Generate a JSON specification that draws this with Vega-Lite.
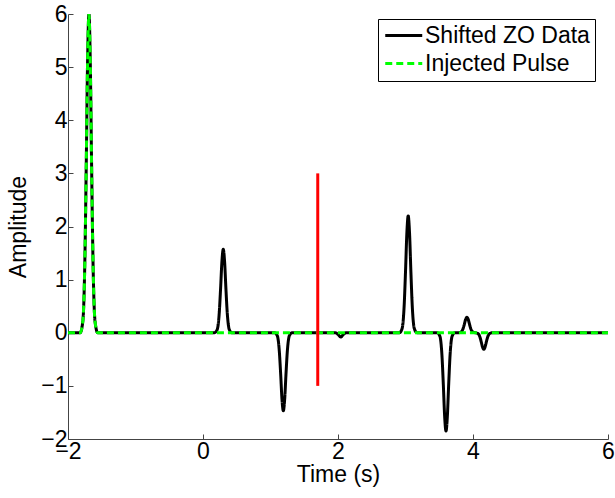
{
  "$schema": "https://vega.github.io/schema/vega-lite/v6.json",
  "width": 540,
  "height": 425,
  "autosize": "none",
  "padding": {"left": 68, "top": 14, "right": 7, "bottom": 59},
  "background": "white",
  "config": {
    "view": {"stroke": null},
    "font": "Liberation Sans",
    "axis": {
      "labelFont": "Liberation Sans",
      "titleFont": "Liberation Sans",
      "labelFontSize": 23,
      "titleFontSize": 23,
      "titleFontWeight": "normal",
      "labelColor": "black",
      "titleColor": "black",
      "domainColor": "#444",
      "tickColor": "#444",
      "tickSize": -5,
      "labelFlush": false,
      "labelOverlap": false,
      "grid": false
    },
    "legend": {
      "symbolType": "M-1,0H3",
      "symbolSize": 342,
      "symbolStrokeWidth": 3,
      "labelFont": "Liberation Sans",
      "labelFontSize": 23,
      "labelColor": "black",
      "labelOffset": 19,
      "labelLimit": 400,
      "rowPadding": 4,
      "padding": 5,
      "strokeColor": "black",
      "fillColor": "white",
      "cornerRadius": 0
    }
  },
  "datasets": {
    "zo": [
      {"series": "Shifted ZO Data", "t": -2.0, "amp": 0},
      {"series": "Shifted ZO Data", "t": -1.82, "amp": 0},
      {"series": "Shifted ZO Data", "t": -1.78, "amp": 0.22},
      {"series": "Shifted ZO Data", "t": -1.75, "amp": 1.38},
      {"series": "Shifted ZO Data", "t": -1.73, "amp": 3.12},
      {"series": "Shifted ZO Data", "t": -1.71, "amp": 5.1},
      {"series": "Shifted ZO Data", "t": -1.69, "amp": 6.0},
      {"series": "Shifted ZO Data", "t": -1.67, "amp": 5.1},
      {"series": "Shifted ZO Data", "t": -1.65, "amp": 3.12},
      {"series": "Shifted ZO Data", "t": -1.63, "amp": 1.38},
      {"series": "Shifted ZO Data", "t": -1.60, "amp": 0.22},
      {"series": "Shifted ZO Data", "t": -1.56, "amp": 0},
      {"series": "Shifted ZO Data", "t": 0.17, "amp": 0},
      {"series": "Shifted ZO Data", "t": 0.21, "amp": 0.058},
      {"series": "Shifted ZO Data", "t": 0.24, "amp": 0.361},
      {"series": "Shifted ZO Data", "t": 0.26, "amp": 0.816},
      {"series": "Shifted ZO Data", "t": 0.28, "amp": 1.335},
      {"series": "Shifted ZO Data", "t": 0.30, "amp": 1.57},
      {"series": "Shifted ZO Data", "t": 0.32, "amp": 1.335},
      {"series": "Shifted ZO Data", "t": 0.34, "amp": 0.816},
      {"series": "Shifted ZO Data", "t": 0.36, "amp": 0.361},
      {"series": "Shifted ZO Data", "t": 0.39, "amp": 0.058},
      {"series": "Shifted ZO Data", "t": 0.43, "amp": 0},
      {"series": "Shifted ZO Data", "t": 1.06, "amp": 0},
      {"series": "Shifted ZO Data", "t": 1.10, "amp": -0.054},
      {"series": "Shifted ZO Data", "t": 1.13, "amp": -0.338},
      {"series": "Shifted ZO Data", "t": 1.15, "amp": -0.764},
      {"series": "Shifted ZO Data", "t": 1.17, "amp": -1.25},
      {"series": "Shifted ZO Data", "t": 1.19, "amp": -1.47},
      {"series": "Shifted ZO Data", "t": 1.21, "amp": -1.25},
      {"series": "Shifted ZO Data", "t": 1.23, "amp": -0.764},
      {"series": "Shifted ZO Data", "t": 1.25, "amp": -0.338},
      {"series": "Shifted ZO Data", "t": 1.28, "amp": -0.054},
      {"series": "Shifted ZO Data", "t": 1.32, "amp": 0},
      {"series": "Shifted ZO Data", "t": 1.96, "amp": 0},
      {"series": "Shifted ZO Data", "t": 2.00, "amp": -0.03},
      {"series": "Shifted ZO Data", "t": 2.04, "amp": -0.08},
      {"series": "Shifted ZO Data", "t": 2.08, "amp": -0.03},
      {"series": "Shifted ZO Data", "t": 2.12, "amp": 0},
      {"series": "Shifted ZO Data", "t": 2.91, "amp": 0},
      {"series": "Shifted ZO Data", "t": 2.95, "amp": 0.081},
      {"series": "Shifted ZO Data", "t": 2.98, "amp": 0.506},
      {"series": "Shifted ZO Data", "t": 3.00, "amp": 1.144},
      {"series": "Shifted ZO Data", "t": 3.02, "amp": 1.87},
      {"series": "Shifted ZO Data", "t": 3.04, "amp": 2.2},
      {"series": "Shifted ZO Data", "t": 3.06, "amp": 1.87},
      {"series": "Shifted ZO Data", "t": 3.08, "amp": 1.144},
      {"series": "Shifted ZO Data", "t": 3.10, "amp": 0.506},
      {"series": "Shifted ZO Data", "t": 3.13, "amp": 0.081},
      {"series": "Shifted ZO Data", "t": 3.17, "amp": 0},
      {"series": "Shifted ZO Data", "t": 3.47, "amp": 0},
      {"series": "Shifted ZO Data", "t": 3.51, "amp": -0.068},
      {"series": "Shifted ZO Data", "t": 3.54, "amp": -0.426},
      {"series": "Shifted ZO Data", "t": 3.56, "amp": -0.962},
      {"series": "Shifted ZO Data", "t": 3.58, "amp": -1.573},
      {"series": "Shifted ZO Data", "t": 3.60, "amp": -1.85},
      {"series": "Shifted ZO Data", "t": 3.62, "amp": -1.573},
      {"series": "Shifted ZO Data", "t": 3.64, "amp": -0.962},
      {"series": "Shifted ZO Data", "t": 3.66, "amp": -0.426},
      {"series": "Shifted ZO Data", "t": 3.69, "amp": -0.068},
      {"series": "Shifted ZO Data", "t": 3.73, "amp": 0},
      {"series": "Shifted ZO Data", "t": 3.78, "amp": 0},
      {"series": "Shifted ZO Data", "t": 3.82, "amp": 0.011},
      {"series": "Shifted ZO Data", "t": 3.85, "amp": 0.067},
      {"series": "Shifted ZO Data", "t": 3.87, "amp": 0.151},
      {"series": "Shifted ZO Data", "t": 3.89, "amp": 0.247},
      {"series": "Shifted ZO Data", "t": 3.91, "amp": 0.29},
      {"series": "Shifted ZO Data", "t": 3.93, "amp": 0.247},
      {"series": "Shifted ZO Data", "t": 3.95, "amp": 0.151},
      {"series": "Shifted ZO Data", "t": 3.97, "amp": 0.067},
      {"series": "Shifted ZO Data", "t": 4.00, "amp": 0.011},
      {"series": "Shifted ZO Data", "t": 4.035, "amp": 0},
      {"series": "Shifted ZO Data", "t": 4.07, "amp": -0.011},
      {"series": "Shifted ZO Data", "t": 4.10, "amp": -0.071},
      {"series": "Shifted ZO Data", "t": 4.12, "amp": -0.161},
      {"series": "Shifted ZO Data", "t": 4.14, "amp": -0.264},
      {"series": "Shifted ZO Data", "t": 4.16, "amp": -0.31},
      {"series": "Shifted ZO Data", "t": 4.18, "amp": -0.264},
      {"series": "Shifted ZO Data", "t": 4.20, "amp": -0.161},
      {"series": "Shifted ZO Data", "t": 4.22, "amp": -0.071},
      {"series": "Shifted ZO Data", "t": 4.25, "amp": -0.011},
      {"series": "Shifted ZO Data", "t": 4.29, "amp": 0},
      {"series": "Shifted ZO Data", "t": 6.0, "amp": 0}
    ],
    "pulse": [
      {"series": "Injected Pulse", "t": -2.0, "amp": 0},
      {"series": "Injected Pulse", "t": -1.82, "amp": 0},
      {"series": "Injected Pulse", "t": -1.78, "amp": 0.22},
      {"series": "Injected Pulse", "t": -1.75, "amp": 1.38},
      {"series": "Injected Pulse", "t": -1.73, "amp": 3.12},
      {"series": "Injected Pulse", "t": -1.71, "amp": 5.1},
      {"series": "Injected Pulse", "t": -1.69, "amp": 6.0},
      {"series": "Injected Pulse", "t": -1.67, "amp": 5.1},
      {"series": "Injected Pulse", "t": -1.65, "amp": 3.12},
      {"series": "Injected Pulse", "t": -1.63, "amp": 1.38},
      {"series": "Injected Pulse", "t": -1.60, "amp": 0.22},
      {"series": "Injected Pulse", "t": -1.56, "amp": 0},
      {"series": "Injected Pulse", "t": 6.0, "amp": 0}
    ],
    "marker": [{"t": 1.7, "top": 3, "bottom": -1}]
  },
  "encoding": {
    "x": {
      "field": "t", "type": "quantitative",
      "scale": {"domain": [-2, 6], "nice": false, "zero": false},
      "axis": {"title": "Time (s)", "values": [-2, 0, 2, 4, 6], "format": "d", "labelPadding": 6, "titlePadding": 0}
    }
  },
  "layer": [
    {
      "data": {"name": "zo"},
      "mark": {"type": "line", "strokeWidth": 3, "interpolate": "monotone", "clip": true},
      "encoding": {
        "y": {
          "field": "amp", "type": "quantitative",
          "scale": {"domain": [-2, 6], "nice": false, "zero": false},
          "axis": {"title": "Amplitude", "values": [-2, -1, 0, 1, 2, 3, 4, 5, 6], "labelPadding": 6, "titlePadding": 10}
        },
        "color": {
          "field": "series", "type": "nominal",
          "scale": {"domain": ["Shifted ZO Data", "Injected Pulse"], "range": ["#000000", "#00ff00"]},
          "legend": {"title": null, "orient": "none", "legendX": 310, "legendY": 5, "direction": "vertical"}
        },
        "strokeDash": {
          "field": "series", "type": "nominal",
          "scale": {"domain": ["Shifted ZO Data", "Injected Pulse"], "range": [[1, 0], [7, 4]]},
          "legend": {"title": null, "orient": "none", "legendX": 310, "legendY": 5, "direction": "vertical"}
        }
      }
    },
    {
      "data": {"name": "pulse"},
      "mark": {"type": "line", "strokeWidth": 3, "interpolate": "monotone", "clip": true},
      "encoding": {
        "y": {"field": "amp", "type": "quantitative"},
        "color": {"field": "series", "type": "nominal"},
        "strokeDash": {"field": "series", "type": "nominal"}
      }
    },
    {
      "data": {"name": "marker"},
      "mark": {"type": "rule", "color": "#ff0000", "strokeWidth": 3},
      "encoding": {
        "y": {"field": "top", "type": "quantitative"},
        "y2": {"field": "bottom"}
      }
    }
  ]
}
